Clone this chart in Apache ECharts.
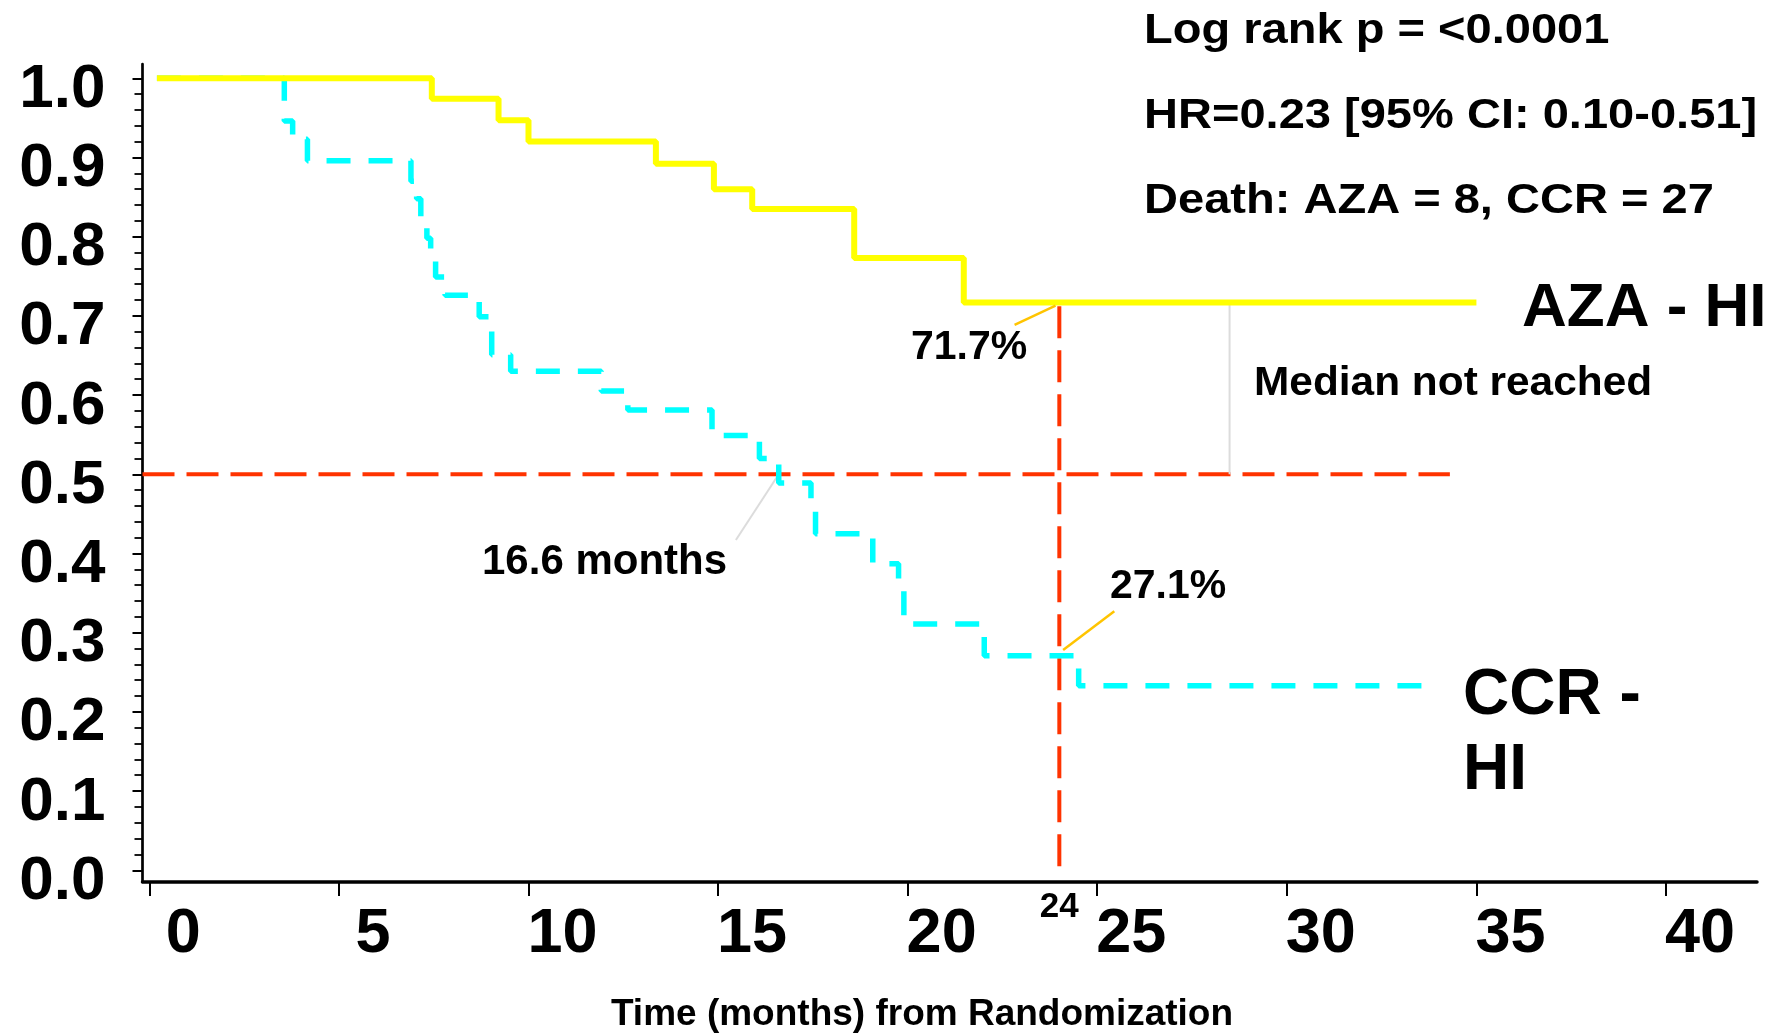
<!DOCTYPE html>
<html>
<head>
<meta charset="utf-8">
<title>Overall survival – AZA vs CCR (HI)</title>
<script src="https://cdn.jsdelivr.net/npm/echarts@6/dist/echarts.min.js"></script>
<style>
  html, body { margin: 0; padding: 0; background: #ffffff; }
  #chart { width: 1787px; height: 1034px; }
</style>
</head>
<body>
<div id="chart"></div>
<script>
// ---- Kaplan–Meier estimates (time in months, survival proportion after each event) ----
const azaTime = [0.2, 7.45, 9.21, 10.0, 13.36, 14.89, 15.9, 18.59, 21.48, 35.0];
const azaSurv = [1.0, 0.974, 0.947, 0.920, 0.892, 0.860, 0.835, 0.773, 0.717, 0.717];

const ccrTime = [0.2, 3.56, 3.78, 4.17, 6.90, 7.05, 7.16, 7.32, 7.42, 7.55, 7.80, 8.70, 9.03, 9.53,
                 11.92, 12.62, 14.84, 16.09, 16.6, 17.45, 17.57, 19.08, 19.76, 19.90, 22.02, 24.51, 33.8];
const ccrSurv = [1.0, 0.946, 0.923, 0.896, 0.870, 0.848, 0.815, 0.798, 0.777, 0.749, 0.726, 0.699, 0.651, 0.630,
                 0.605, 0.581, 0.549, 0.520, 0.489, 0.459, 0.425, 0.387, 0.358, 0.311, 0.271, 0.233, 0.233];

// Reference lines: 50 % survival and the 24-month landmark
const halfLine = [[-0.18, 0.5], [34.3, 0.5]];
const landmarkMonth = 24;
const landmarkLine = [[24, 0.712], [24, 0.005]];

// Leader lines from the annotations to the curves
const leaderAza24   = [[22.82, 0.6885], [23.9, 0.713]];
const leaderCcr24   = [[24.1, 0.278], [25.45, 0.327]];
const leaderMedian  = [[15.47, 0.417], [16.6, 0.5]];
const leaderNoMed   = [[28.49, 0.715], [28.49, 0.5]];

// Axis ticks
const xTickValues = [0, 5, 10, 15, 20, 25, 30, 35, 40];
const yTickValues = [0, 0.1, 0.2, 0.3, 0.4, 0.5, 0.6, 0.7, 0.8, 0.9, 1.0];

// Minor y ticks: four between each pair of major ticks
const yMinorValues = [];
for (let i = 0; i < yTickValues.length - 1; i++) {
  const a = yTickValues[i], b = yTickValues[i + 1];
  for (let k = 1; k < 5; k++) yMinorValues.push(+(a + (b - a) * k / 5).toFixed(3));
}

const zip = (xs, ys) => xs.map((x, i) => [x, ys[i]]);

// Survival at time t
function survAt(times, survs, t) {
  let s = survs[0];
  for (let i = 0; i < times.length; i++) { if (times[i] <= t) s = survs[i]; }
  return s;
}
// Median: first event time where survival falls below 0.5
function medianOf(times, survs) {
  for (let i = 0; i < times.length; i++) { if (survs[i] < 0.5) return times[i]; }
  return null;
}

const FONT = '"Liberation Sans", Arial, Helvetica, sans-serif';
const X_MIN = -0.18, X_MAX = 42.4, Y_MIN = -0.0148, Y_MAX = 1.018;

const chart = echarts.init(document.getElementById('chart'), null, { renderer: 'canvas' });

function lineSeries(data, color, width, dash, z, extra) {
  return Object.assign({
    type: 'line', data: data, symbol: 'none', silent: true, z: z,
    lineStyle: { color: color, width: width, type: dash, cap: 'butt' },
    emphasis: { disabled: true }
  }, extra || {});
}

function txt(text, x, y, size, opts) {
  opts = opts || {};
  return {
    type: 'text', x: x, y: y, z: 100,
    scaleX: opts.scaleX || 1,
    style: {
      text: text, x: 0, y: 0,
      fontSize: size, fontWeight: 'bold', fontFamily: FONT,
      fill: '#000000',
      align: opts.align || 'left', verticalAlign: 'middle'
    }
  };
}

const aza24 = survAt(azaTime, azaSurv, landmarkMonth);
const ccr24 = survAt(ccrTime, ccrSurv, landmarkMonth);
const ccrMedian = medianOf(ccrTime, ccrSurv);

const option = {
  animation: false,
  backgroundColor: '#ffffff',
  grid: { left: 142.5, right: 30, top: 64, bottom: 152, containLabel: false },
  xAxis: [
    {
      type: 'value', min: X_MIN, max: X_MAX, position: 'bottom',
      axisLine: { show: true, onZero: false, lineStyle: { color: '#000', width: 3.5 } },
      axisTick: { show: true, inside: false, length: 14, customValues: xTickValues,
                  lineStyle: { color: '#000', width: 2 } },
      axisLabel: { show: true, customValues: xTickValues, margin: 21,
                   fontSize: 63, fontWeight: 'bold', fontFamily: FONT, color: '#000',
                   padding: [0, 0, 0, 68] },
      splitLine: { show: false }
    },
    {
      type: 'value', min: X_MIN, max: X_MAX, position: 'bottom',
      axisLine: { show: false, onZero: false },
      axisTick: { show: false },
      axisLabel: { show: true, customValues: [landmarkMonth], margin: 8,
                   fontSize: 35, fontWeight: 'bold', fontFamily: FONT, color: '#000' },
      splitLine: { show: false }
    }
  ],
  yAxis: [
    {
      type: 'value', min: Y_MIN, max: Y_MAX, position: 'left',
      axisLine: { show: true, onZero: false, lineStyle: { color: '#000', width: 2.7 } },
      axisTick: { show: true, inside: false, length: 10, customValues: yTickValues,
                  lineStyle: { color: '#000', width: 2 } },
      axisLabel: { show: true, customValues: yTickValues, margin: 37,
                   fontSize: 62, fontWeight: 'bold', fontFamily: FONT, color: '#000',
                   verticalAlign: 'top', lineHeight: 23,
                   formatter: v => Number(v).toFixed(1) },
      splitLine: { show: false }
    },
    {
      type: 'value', min: Y_MIN, max: Y_MAX, position: 'left',
      axisLine: { show: false, onZero: false },
      axisTick: { show: true, inside: false, length: 8, customValues: yMinorValues,
                  lineStyle: { color: '#000', width: 1.8 } },
      axisLabel: { show: false },
      splitLine: { show: false }
    }
  ],
  series: [
    lineSeries(halfLine, '#ff3300', 4, [32, 12], 1),
    lineSeries(landmarkLine, '#ff3300', 4, [32, 12], 1),
    lineSeries(leaderMedian, '#dcdcdc', 2, 'solid', 2),
    lineSeries(leaderNoMed, '#dcdcdc', 2, 'solid', 2),
    lineSeries(zip(ccrTime, ccrSurv), '#00ffff', 5.5, [24, 18], 3, { name: 'CCR - HI', step: 'end' }),
    lineSeries(zip(azaTime, azaSurv), '#ffff00', 6, 'solid', 4, { name: 'AZA - HI', step: 'end' }),
    lineSeries(leaderAza24, '#ffc400', 2.5, 'solid', 5),
    lineSeries(leaderCcr24, '#ffc400', 2.5, 'solid', 5)
  ],
  graphic: [
    txt('Log rank p = <0.0001', 1144, 31.7, 42, { scaleX: 1.12 }),
    txt('HR=0.23 [95% CI: 0.10-0.51]', 1144, 116.7, 42, { scaleX: 1.12 }),
    txt('Death: AZA = 8, CCR = 27', 1144, 201.7, 42, { scaleX: 1.12 }),
    txt('AZA - HI', 1522, 309, 62),
    txt('Median not reached', 1254, 384, 40, { scaleX: 1.06 }),
    txt((aza24 * 100).toFixed(1) + '%', 911, 348, 41),
    txt((ccr24 * 100).toFixed(1) + '%', 1110, 586.7, 41),
    txt(ccrMedian.toFixed(1) + ' months', 482, 562, 42),
    txt('CCR -', 1463, 696.5, 64),
    txt('HI', 1463, 771.5, 64),
    txt('Time (months) from Randomization', 922, 1015, 37, { align: 'center' })
  ]
};

chart.setOption(option);
</script>
</body>
</html>
